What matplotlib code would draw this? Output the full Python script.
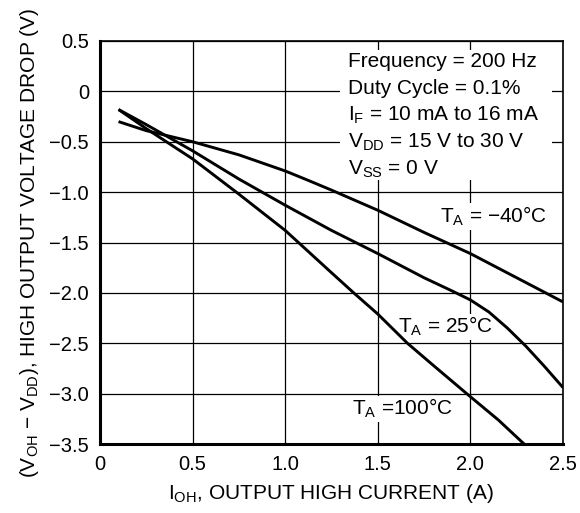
import matplotlib
matplotlib.use("Agg")
import matplotlib.pyplot as plt
from matplotlib.patches import Rectangle

plt.rcParams['font.family'] = ['Liberation Sans', 'DejaVu Sans']
plt.rcParams['mathtext.fontset'] = 'custom'
plt.rcParams['mathtext.rm'] = 'Liberation Sans'
plt.rcParams['mathtext.it'] = 'Liberation Sans'

# Data
x_m40 = [0.1, 0.25, 0.5, 0.75, 1.0, 1.12, 1.25, 1.5, 1.75, 2.0, 2.25, 2.5]
y_m40 = [-0.30, -0.39, -0.50, -0.63, -0.79, -0.88, -0.98, -1.18, -1.40, -1.61, -1.85, -2.09]

x_25 = [0.1, 0.25, 0.5, 0.75, 1.0, 1.25, 1.5, 1.75, 1.9, 2.0, 2.1, 2.2, 2.3, 2.4, 2.5]
y_25 = [-0.18, -0.33, -0.59, -0.87, -1.13, -1.38, -1.61, -1.85, -1.98, -2.07, -2.19, -2.35, -2.53, -2.73, -2.94]

x_100 = [0.1, 0.25, 0.5, 0.75, 1.0, 1.25, 1.37, 1.5, 1.66, 1.8, 1.98, 2.15, 2.29]
y_100 = [-0.18, -0.37, -0.67, -1.02, -1.38, -1.80, -2.00, -2.21, -2.50, -2.72, -3.00, -3.26, -3.50]

x_ticks = [0, 0.5, 1.0, 1.5, 2.0, 2.5]
x_ticklabels = ['0', '0.5', '1.0', '1.5', '2.0', '2.5']
y_ticks = [0.5, 0, -0.5, -1.0, -1.5, -2.0, -2.5, -3.0, -3.5]
y_ticklabels = ['0.5', '0', '\u22120.5', '\u22121.0', '\u22121.5', '\u22122.0', '\u22122.5', '\u22123.0', '\u22123.5']

conditions = ['Frequency = 200 Hz',
              'Duty Cycle = 0.1%',
              r'I$\mathregular{_F}$ = 10 mA to 16 mA',
              r'V$\mathregular{_{DD}}$ = 15 V to 30 V',
              r'V$\mathregular{_{SS}}$ = 0 V']

curve_labels = [r'T$\mathregular{_A}$ = ' + '\u221240\u00b0C',
                r'T$\mathregular{_A}$ = 25' + '\u00b0C',
                r'T$\mathregular{_A}$ =100' + '\u00b0C']

fig = plt.figure(figsize=(5.8, 5.13), dpi=100)
ax = fig.add_axes([100/580, 1-444/513, 463/580, 403/513])

ax.set_xlim(0, 2.5)
ax.set_ylim(-3.5, 0.5)
ax.set_xticks(x_ticks)
ax.set_xticklabels(x_ticklabels)
ax.set_yticks(y_ticks)
ax.set_yticklabels(y_ticklabels)
ax.tick_params(length=0, labelsize=14.5, pad=8)
ax.tick_params(axis='x', pad=8)
ax.grid(True, color='black', linewidth=0.9)
ax.set_axisbelow(True)

for s in ['left', 'bottom']:
    ax.spines[s].set_linewidth(2.2)
for s in ['top', 'right']:
    ax.spines[s].set_linewidth(1.2)

lw = 2.1
for xs, ys_ in [(x_m40, y_m40), (x_25, y_25), (x_100, y_100)]:
    ax.plot(xs, ys_, color='black', lw=lw, zorder=3, solid_capstyle='butt',
            solid_joinstyle='round')

# white box behind the conditions
ax.add_patch(Rectangle((0.518, 0.655), 0.458, 0.323, transform=ax.transAxes,
                       facecolor='white', edgecolor='none', zorder=2))

ys = [0.242, -0.026, -0.294, -0.562, -0.83]
for t, yv in zip(conditions, ys):
    ax.text(1.339, yv, t, fontsize=15, va='baseline', ha='left', zorder=4)

bb = dict(facecolor='white', edgecolor='none', pad=1)
label_pos = [(1.836, -1.306), (1.609, -2.398), (1.361, -3.212)]
for t, (lx, ly) in zip(curve_labels, label_pos):
    ax.text(lx, ly, t, fontsize=15, va='baseline', ha='left', zorder=2.5, bbox=bb)

ax.set_xlabel(r'I$\mathregular{_{OH}}$, OUTPUT HIGH CURRENT (A)', fontsize=15, labelpad=6)
ax.set_ylabel(r'(V$\mathregular{_{OH}}$ ' + '\u2212' + r' V$\mathregular{_{DD}}$), HIGH OUTPUT VOLTAGE DROP (V)',
              fontsize=15, labelpad=6)

fig.savefig('out.png', dpi=100)
